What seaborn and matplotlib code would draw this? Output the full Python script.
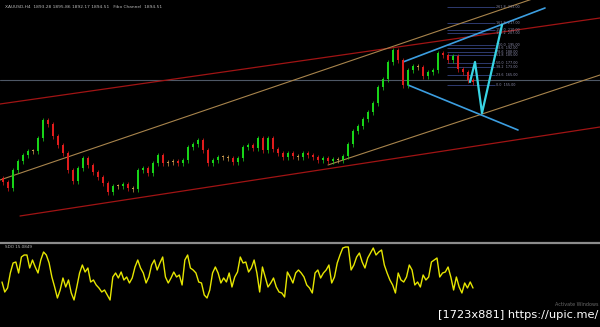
import numpy as np
import pandas as pd
import matplotlib
matplotlib.use("Agg")
import matplotlib.pyplot as plt
import seaborn as sns

# ---------------- data ----------------
closes = [58, 52, 70, 79, 85, 89, 89, 102, 120, 116,
          104, 95, 87, 70, 59, 72, 82, 75, 68, 63,
          57, 48, 54, 54, 56, 52, 51, 70, 72, 67,
          77, 85, 77, 78, 79, 77, 80, 93, 96, 100,
          90, 77, 80, 83, 83, 82, 78, 82, 93, 95,
          92, 102, 90, 102, 91, 87, 83, 87, 84, 83,
          87, 85, 83, 80, 82, 79, 81, 80, 84, 96,
          109, 114, 121, 128, 137, 153, 161, 178, 190, 180,
          155, 170, 174, 173, 164, 168, 170, 187, 185, 180,
          184, 171, 168, 160, 158]

sdo = [21, 11, 15, 30, 40, 41, 30, 46, 48, 48, 35, 43, 36, 30, 43, 51, 48, 40, 26, 16,
       5, 13, 25, 16, 23, 10, 3, 16, 30, 38, 31, 35, 21, 23, 18, 15, 11, 13, 8, 3,
       26, 30, 25, 31, 23, 26, 20, 25, 36, 43, 35, 30, 20, 26, 38, 43, 33, 40, 46, 26,
       20, 25, 31, 26, 28, 18, 43, 48, 35, 33, 30, 21, 20, 8, 5, 13, 30, 36, 30, 20,
       25, 21, 30, 16, 26, 31,
       46, 40, 41, 31, 35, 43, 30, 11, 36, 26, 16, 20, 25, 16, 11, 10, 6, 31, 26, 20,
       30, 33, 30, 26, 18, 15, 10, 30, 33, 25, 30, 33, 38, 20, 26, 40, 48, 55, 56, 56,
       33, 38, 46, 50, 41, 35, 45, 50, 55, 48, 51, 53, 38, 30, 23, 18, 10, 30, 23, 21,
       26, 38, 33, 18, 21, 16, 28, 23, 26, 41, 43, 45, 26, 30, 31, 36, 26, 13, 26, 16,
       10, 20, 15, 21, 15]

fib_ratios = ["261.8", "161.8", "150.0", "138.2", "100.0", "88.6",
              "78.6", "61.8", "50.0", "38.2", "23.6", "0.0"]
fib_prices = [233, 217, 210, 207, 195, 192, 188, 185, 177, 173, 165, 155]

# trend objects: (bar, price) anchors
red_upper_bars, red_upper_prices = [-0.6, 119.4], [136, 222]
red_lower_bars, red_lower_prices = [3.4, 119.4], [24, 113]
tan_upper_bars, tan_upper_prices = [-0.6, 119.4], [60, 264]
tan_lower_bars, tan_lower_prices = [65, 119.4], [75, 165]
blue_upper_bars, blue_upper_prices = [80, 108.4], [178, 232]
blue_lower_bars, blue_lower_prices = [81, 103], [155, 110]
zigzag_bars = [93.4, 94.4, 95.8, 99.8]
zigzag_prices = [158, 178, 127, 215]
hline_price = 160
fib_start_bar, fib_end_bar = 88.8, 98.4

# ---------------- style ----------------
sns.set_theme(style="dark", rc={"axes.facecolor": "black", "figure.facecolor": "black"})
fig = plt.figure(figsize=(6, 3.27), dpi=100, facecolor="black")

ax = fig.add_axes([0, 87 / 327, 1, 240 / 327])
ax.set_facecolor("black")
ax.set_xlim(-0.6, 119.4)
ax.set_ylim(0, 240)
for s in ax.spines.values():
    s.set_visible(False)
ax.set_xticks([]); ax.set_yticks([])
ax.grid(False)

# horizontal level
ax.axhline(hline_price, color="#4e5866", lw=0.8, zorder=1)

def tl(xs, ys, color, lw):
    sns.lineplot(x=xs, y=ys, ax=ax, color=color, lw=lw, legend=False, zorder=2)

tl(red_upper_bars, red_upper_prices, "#a01414", 0.9)
tl(red_lower_bars, red_lower_prices, "#a01414", 0.9)
tl(tan_upper_bars, tan_upper_prices, "#a8844c", 0.8)
tl(tan_lower_bars, tan_lower_prices, "#a8844c", 0.8)

# fib levels
for r, p in zip(fib_ratios, fib_prices):
    ax.hlines(p, fib_start_bar, fib_end_bar, color="#2e3a70", lw=0.7, zorder=1)
    ax.text(fib_end_bar + 0.2, p, f"{r}  {p:.2f}", color="#8a8aa8", fontsize=2.4,
            va="center", ha="left")

# candles
xs = np.arange(len(closes))
opens = [closes[0] + 4] + closes[:-1]
for x, o, c in zip(xs, opens, closes):
    if abs(c - o) < 2:
        col = "#c8964a"
    elif c > o:
        col = "#18d418"
    else:
        col = "#e01c1c"
    lo, hi = min(o, c), max(o, c)
    ax.vlines(x, lo - 2.5, hi + 2.5, color=col, lw=0.5, zorder=3)
    ax.bar(x, max(hi - lo, 1), bottom=lo, width=0.45, color=col, linewidth=0, zorder=3)

tl(blue_upper_bars, blue_upper_prices, "#3c9ee0", 1.2)
tl(blue_lower_bars, blue_lower_prices, "#3c9ee0", 1.2)
sns.lineplot(x=zigzag_bars, y=zigzag_prices, ax=ax, color="#38d4e4", lw=1.6,
             legend=False, sort=False, zorder=4)

ax.text(0.008, 0.972, "XAUUSD,H4  1893.28 1895.86 1892.17 1894.51   Fibo Channel  1894.51",
        transform=ax.transAxes, color="#b8b8b8", fontsize=3.2, va="center", ha="left")

# ---------------- indicator ----------------
axi = fig.add_axes([0, 24 / 327, 1, 60 / 327])
axi.set_facecolor("black")
axi.set_xlim(-0.6, 119.4)
axi.set_ylim(0, 60)
for k, s in axi.spines.items():
    s.set_visible(k == "top")
axi.spines["top"].set_color("#8c8c8c")
axi.spines["top"].set_linewidth(1.6)
axi.set_xticks([]); axi.set_yticks([])
axi.grid(False)
osc_x = np.linspace(-0.2, 94, len(sdo))
sns.lineplot(x=osc_x, y=sdo, ax=axi, color="#e6e600", lw=1.0, legend=False)
axi.text(0.008, 0.93, "SDO 15.0849", transform=axi.transAxes, color="#b8b8b8",
         fontsize=3, va="center", ha="left")

fig.text(0.997, (327 - 305) / 327, "Activate Windows", color="#6a6a6a",
         fontsize=3.5, ha="right", va="center")
fig.text(0.997, (327 - 315) / 327, "[1723x881] https://upic.me/", color="white",
         fontsize=8.2, ha="right", va="center")

fig.savefig("out.png", dpi=100, facecolor="black")
